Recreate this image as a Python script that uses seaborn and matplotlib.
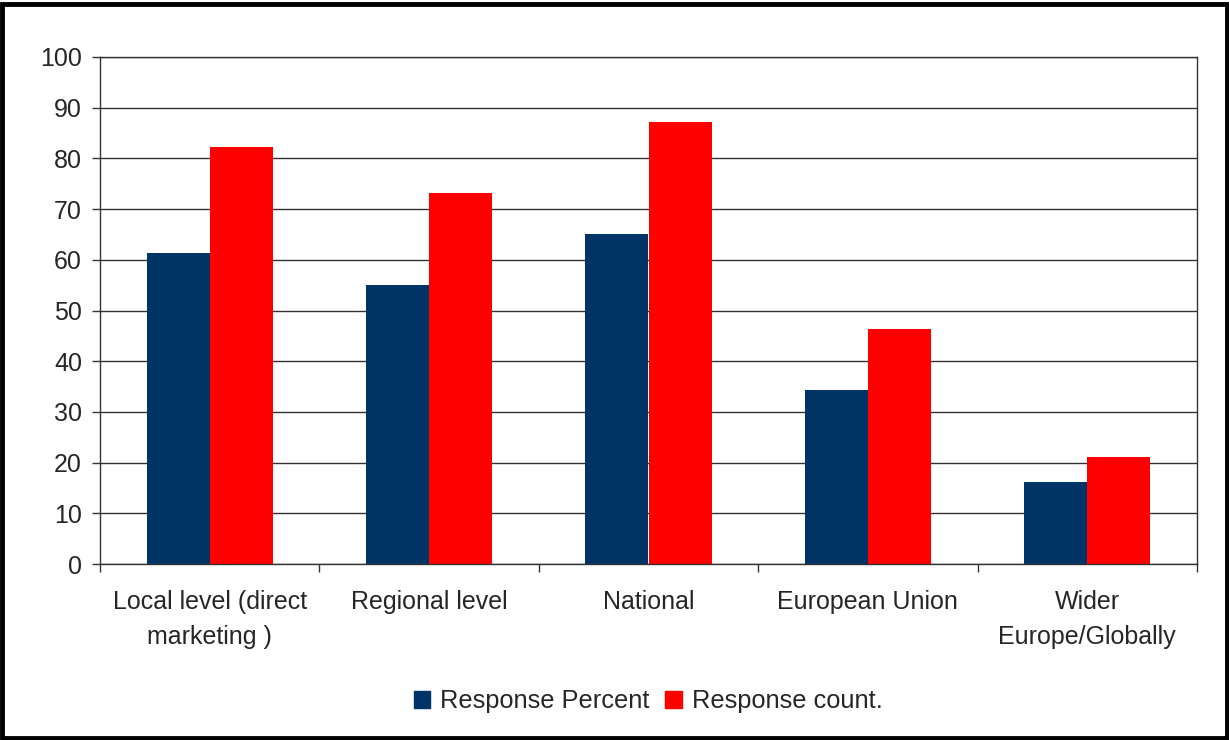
import pandas as pd
import matplotlib.pyplot as plt
import matplotlib.patches as mpatches
from matplotlib.ticker import FixedLocator
import seaborn as sns

# data
categories = ['Local level (direct\nmarketing )', 'Regional level', 'National',
              'European Union', 'Wider\nEurope/Globally']
response_percent = [61.4, 55.0, 65.0, 34.3, 16.1]
response_count = [82.3, 73.1, 87.1, 46.3, 21.1]
series_names = ['Response Percent', 'Response count.']
colors = ['#003366', '#FF0000']

df = pd.DataFrame({
    'category': categories * 2,
    'value': response_percent + response_count,
    'series': [series_names[0]] * 5 + [series_names[1]] * 5,
})

sns.set_style('white')
plt.rcParams['font.family'] = ['Liberation Sans', 'DejaVu Sans']

fig = plt.figure(figsize=(12.29, 7.40), dpi=100)
ax = fig.add_axes([100 / 1229, 1 - 564 / 740, 1097 / 1229, 507 / 740])

sns.barplot(data=df, x='category', y='value', hue='series', palette=colors,
            width=0.575, saturation=1, linewidth=0, ax=ax, legend=True)

ax.set_ylim(0, 100)
ax.set_xlim(-0.5, 4.5)
ax.set_yticks(range(0, 101, 10))
ax.yaxis.grid(True, color='#333333', linewidth=1.0)
ax.set_axisbelow(True)
ax.set_xlabel('')
ax.set_ylabel('')

# category boundary ticks like Excel
ax.xaxis.set_minor_locator(FixedLocator([-0.5, 0.5, 1.5, 2.5, 3.5, 4.5]))
ax.tick_params(axis='x', which='major', length=0, labelsize=18, pad=19)
ax.tick_params(axis='x', which='minor', length=6, width=1, color='#333333', bottom=True)
ax.tick_params(axis='y', which='major', length=6, width=1, color='#333333', labelsize=18,
               left=True, pad=7)
for lbl in ax.get_xticklabels():
    lbl.set_linespacing(1.55)
for s in ax.spines.values():
    s.set_color('#333333')
    s.set_linewidth(1.0)

ax.legend(handles=[mpatches.Patch(color=c, label=n) for c, n in zip(colors, series_names)],
          loc='center', bbox_to_anchor=(648 / 1229, 1 - 701 / 740), bbox_transform=fig.transFigure,
          ncol=2, frameon=False, fontsize=18.3, handlelength=0.65, handleheight=0.65,
          handletextpad=0.4, columnspacing=0.6)

# outer frame
fig.patches.append(mpatches.Rectangle((0.002, 0.003), 0.996, 0.992, transform=fig.transFigure,
                                      fill=False, edgecolor='black', linewidth=3.5))

fig.savefig('out.png', dpi=100)
